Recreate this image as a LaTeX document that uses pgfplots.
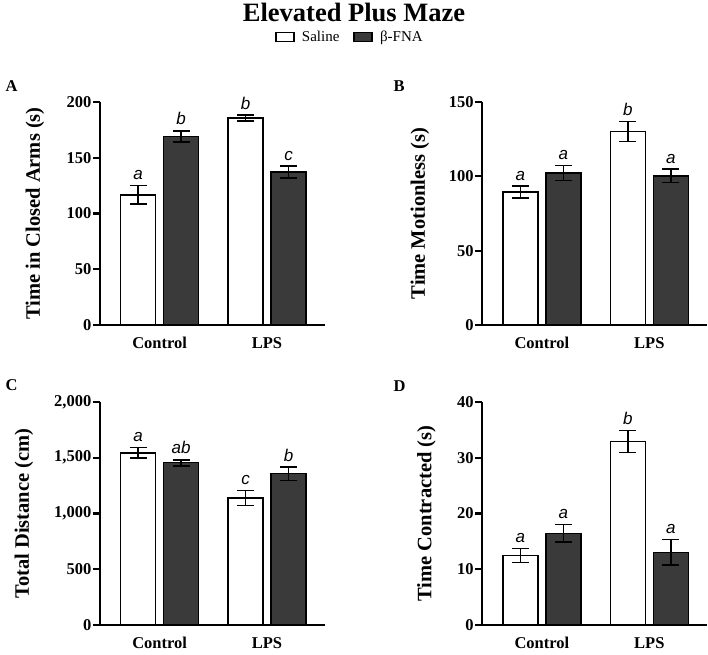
\documentclass[border=0pt]{standalone}
\usepackage{fontspec}
\setmainfont{Liberation Serif}
\newfontfamily\sansit{Liberation Sans}
\usepackage{pgfplots}
\pgfplotsset{compat=1.18}
\definecolor{darkbar}{RGB}{58,58,58}
\pgfplotsset{
  panel/.style={
    scale only axis, width=225bp, height=223bp, anchor=south west,
    xmin=-0.555, xmax=1.54, ymin=0, clip=false,
    axis lines*=left,
    axis line style={line width=2.2bp, black},
    xtick={0,1}, xticklabels={Control,LPS},
    x tick style={draw=none},
    y tick style={line width=2.2bp, black},
    tick align=outside, major tick length=7bp,
    /pgf/number format/assume math mode=true,
    /pgf/number format/1000 sep={,},
    ticklabel style={font=\bfseries\fontsize{16.5bp}{18bp}\selectfont},
    xticklabel style={yshift=-2bp},
    yticklabel style={inner sep=1.5bp},
    label style={font=\bfseries\fontsize{20.5bp}{22bp}\selectfont},
    ybar=8bp, bar width=35bp,
    legend image code/.code={\draw[#1] (0bp,-4.75bp) rectangle (18bp,4.75bp); \path[draw=none, fill=none] (0bp,0bp) -- (24bp,0bp);},
  },
  saline/.style={fill=white, draw=black, line width=1.3bp,
    error bars/.cd, y dir=both, y explicit,
    error bar style={line width=1.5bp, black},
    error mark options={rotate=90, mark size=8.5bp, line width=1.5bp, black}},
  fna/.style={fill=darkbar, draw=black, line width=1.3bp,
    error bars/.cd, y dir=both, y explicit,
    error bar style={line width=1.5bp, black},
    error mark options={rotate=90, mark size=8.5bp, line width=1.5bp, black}},
}
\tikzset{
  sig/.style={anchor=base, yshift=6bp, font=\sansit\itshape\fontsize{17bp}{17bp}\selectfont},
  plab/.style={anchor=west, font=\bfseries\fontsize{16.5bp}{18bp}\selectfont},
}
\begin{document}
\begin{tikzpicture}
\path[use as bounding box] (0bp,0bp) rectangle (708bp,-655bp);
\node[anchor=base, font=\bfseries\fontsize{26.5bp}{30bp}\selectfont] at (354bp,-21bp) {Elevated Plus Maze};
\node[plab] at (2bp,-86bp) {A};
\node[plab] at (390bp,-86bp) {B};
\node[plab] at (2bp,-385bp) {C};
\node[plab] at (390bp,-386bp) {D};

% Panel A
\begin{axis}[panel, at={(100bp,-325bp)}, ymax=200, ytick={0,50,100,150,200},
  ylabel={Time in Closed Arms (s)},
  ylabel style={at={(axis description cs:-0.289,0.5)}, anchor=center},
  legend columns=2,
  legend style={at={(axis description cs:1.111,1.2915)}, anchor=center, draw=none, fill=none,
    font=\fontsize{15bp}{16bp}\selectfont,
    /tikz/every even column/.append style={column sep=12bp}}]
\addplot[saline] coordinates {(0,116.7) +- (0,8.2) (1,185.7) +- (0,2.6)};
\addplot[fna] coordinates {(0,169.2) +- (0,5.0) (1,137.2) +- (0,5.4)};
\legend{Saline, β-FNA}
\node[sig] at ([xshift=-21.5bp]axis cs:0,124.9) {a};
\node[sig] at ([xshift=21.5bp]axis cs:0,174.2) {b};
\node[sig] at ([xshift=-21.5bp]axis cs:1,188.3) {b};
\node[sig] at ([xshift=21.5bp]axis cs:1,142.6) {c};
\end{axis}

% Panel B
\begin{axis}[panel, at={(482.3bp,-325bp)}, ymax=150, ytick={0,50,100,150},
  ylabel={Time Motionless (s)},
  ylabel style={at={(axis description cs:-0.277,0.5)}, anchor=center}]
\addplot[saline] coordinates {(0,89.4) +- (0,4.0) (1,130.2) +- (0,6.7)};
\addplot[fna] coordinates {(0,102.2) +- (0,5.0) (1,100.3) +- (0,4.5)};
\node[sig] at ([xshift=-21.5bp]axis cs:0,93.4) {a};
\node[sig] at ([xshift=21.5bp]axis cs:0,107.2) {a};
\node[sig] at ([xshift=-21.5bp]axis cs:1,136.9) {b};
\node[sig] at ([xshift=21.5bp]axis cs:1,104.8) {a};
\end{axis}

% Panel C
\begin{axis}[panel, at={(100bp,-625bp)}, ymax=2000, ytick={0,500,1000,1500,2000},
  ylabel={Total Distance (cm)},
  ylabel style={at={(axis description cs:-0.338,0.5)}, anchor=center}]
\addplot[saline] coordinates {(0,1544) +- (0,48) (1,1140) +- (0,66)};
\addplot[fna] coordinates {(0,1455) +- (0,27) (1,1356) +- (0,60)};
\node[sig] at ([xshift=-21.5bp]axis cs:0,1592) {a};
\node[sig] at ([xshift=21.5bp]axis cs:0,1482) {ab};
\node[sig] at ([xshift=-21.5bp]axis cs:1,1206) {c};
\node[sig] at ([xshift=21.5bp]axis cs:1,1416) {b};
\end{axis}

% Panel D
\begin{axis}[panel, at={(482.3bp,-625bp)}, ymax=40, ytick={0,10,20,30,40},
  ylabel={Time Contracted (s)},
  ylabel style={at={(axis description cs:-0.248,0.5)}, anchor=center}]
\addplot[saline] coordinates {(0,12.45) +- (0,1.25) (1,32.9) +- (0,2.0)};
\addplot[fna] coordinates {(0,16.47) +- (0,1.55) (1,13.05) +- (0,2.25)};
\node[sig] at ([xshift=-21.5bp]axis cs:0,13.7) {a};
\node[sig] at ([xshift=21.5bp]axis cs:0,18.0) {a};
\node[sig] at ([xshift=-21.5bp]axis cs:1,34.9) {b};
\node[sig] at ([xshift=21.5bp]axis cs:1,15.3) {a};
\end{axis}
\end{tikzpicture}
\end{document}
